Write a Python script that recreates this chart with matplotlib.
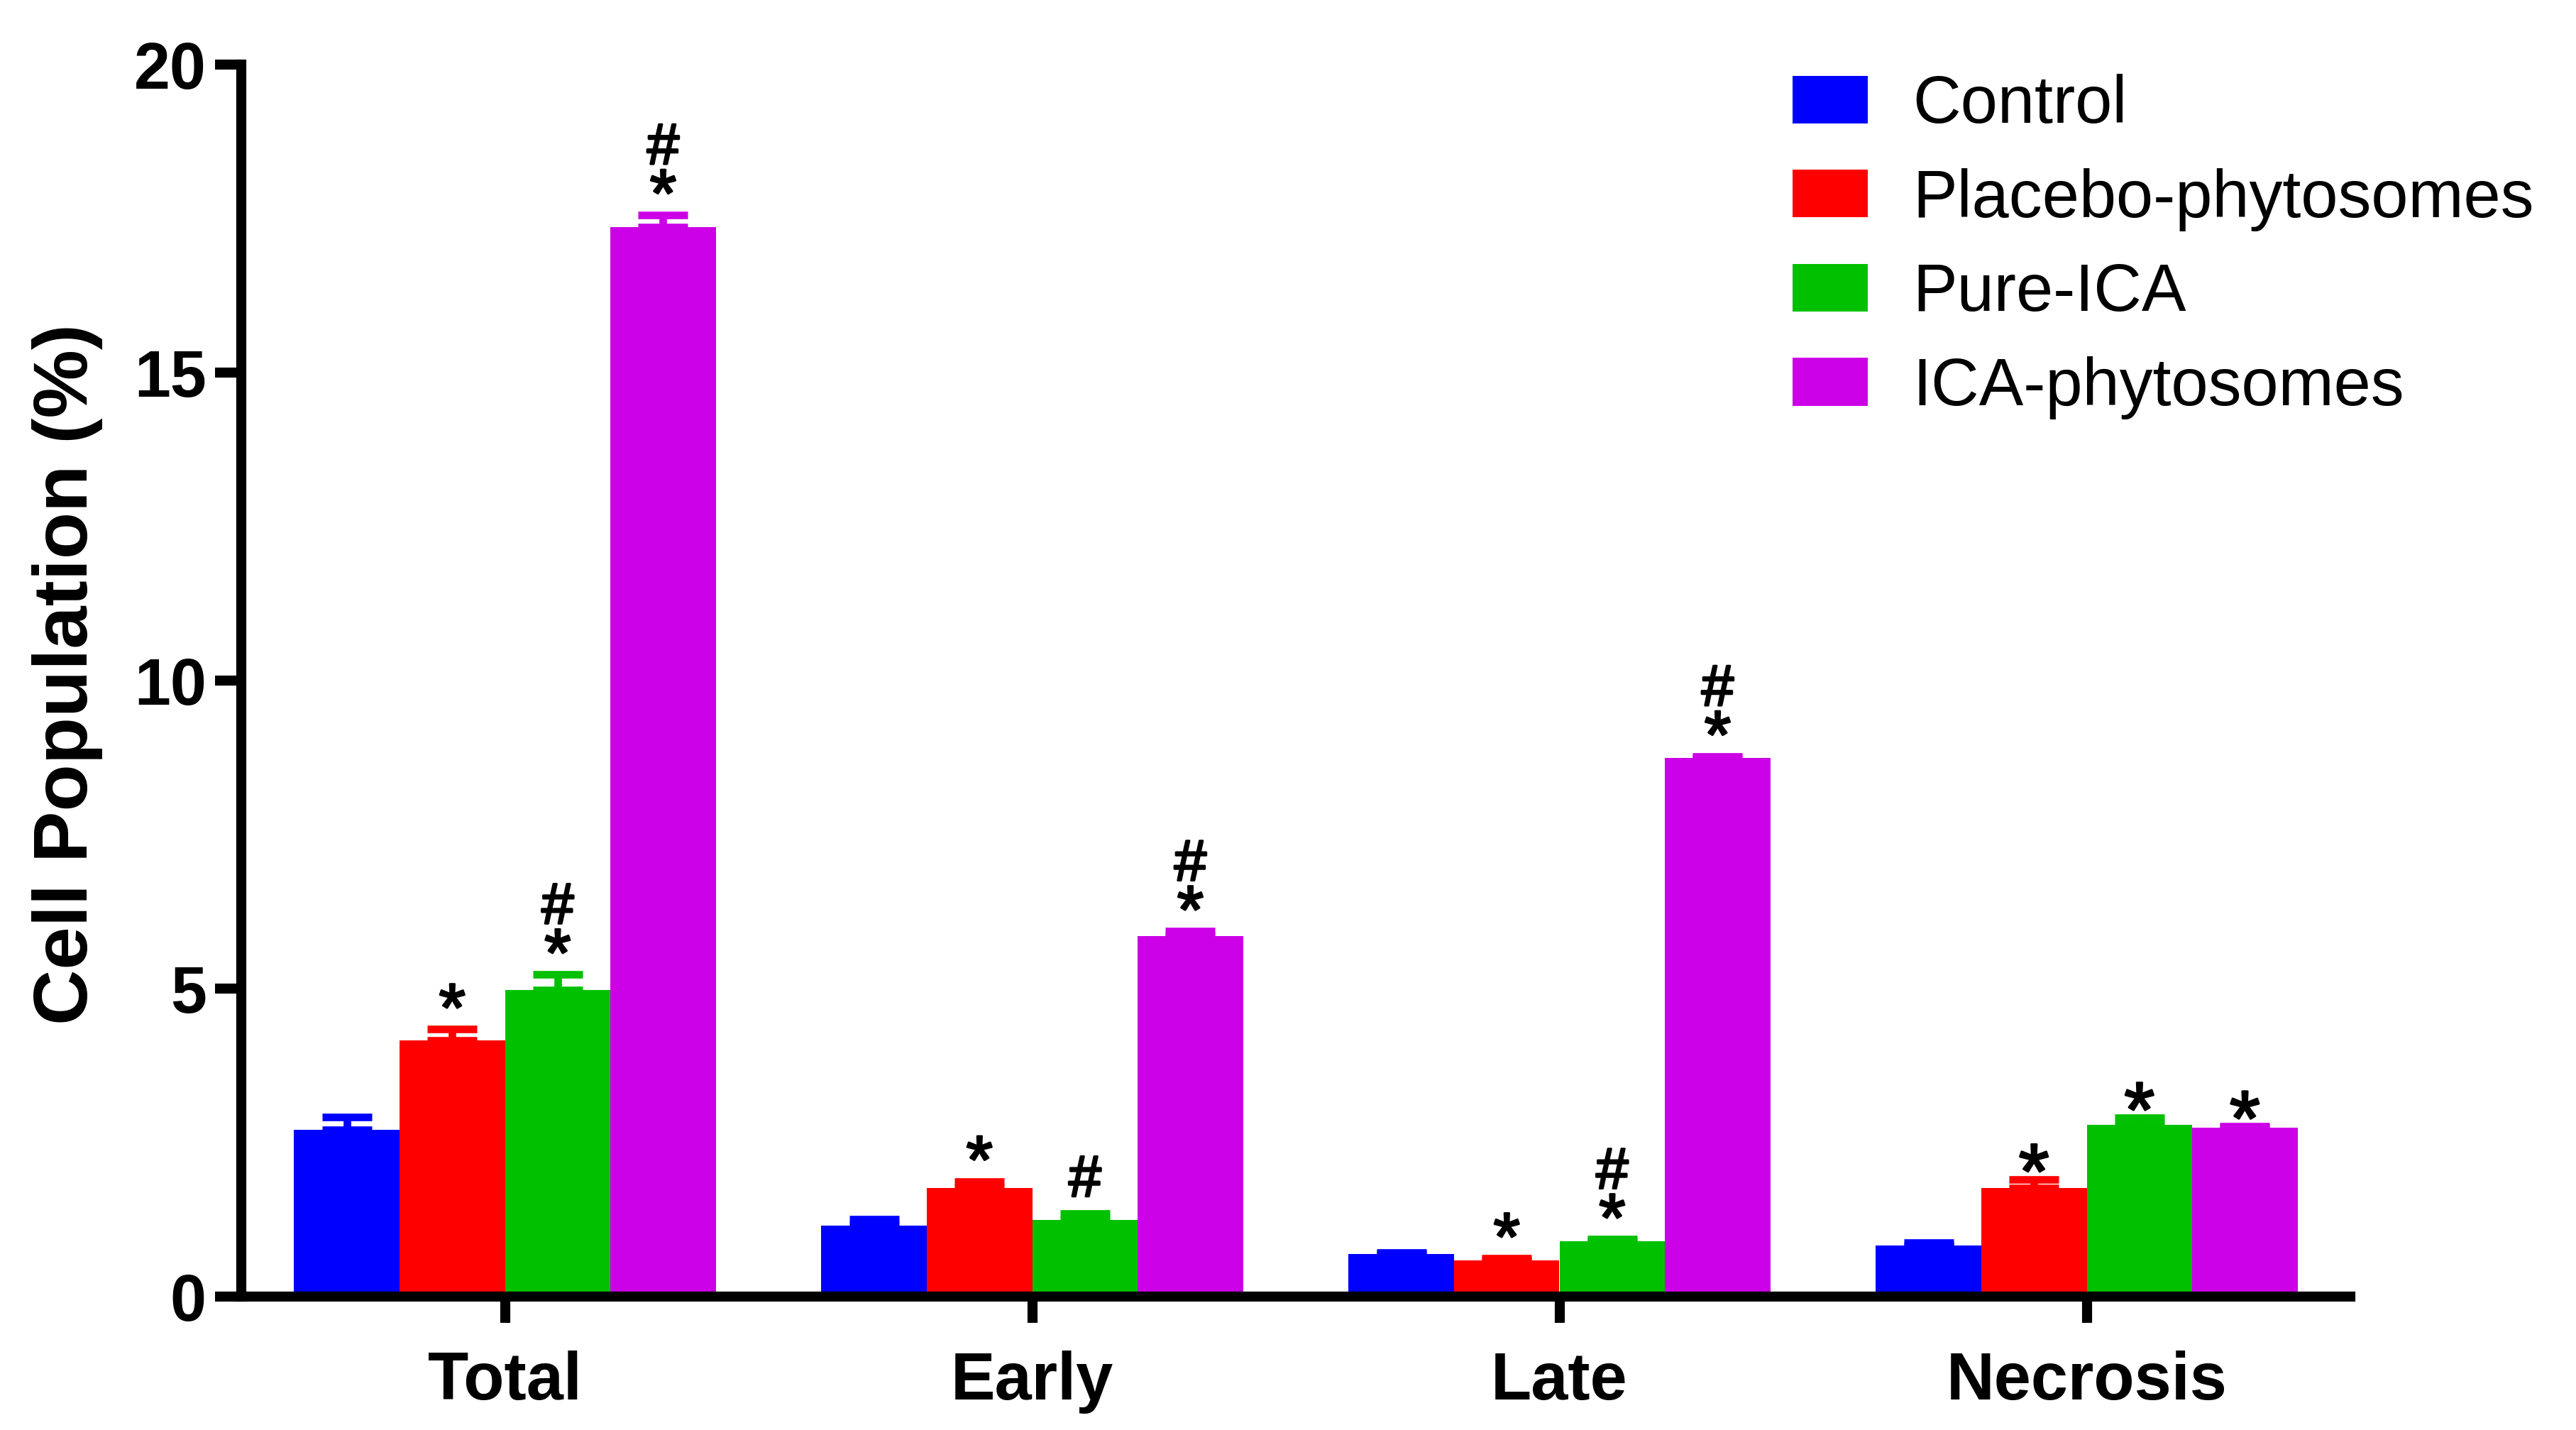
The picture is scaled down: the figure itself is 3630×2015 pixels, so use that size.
import matplotlib
matplotlib.use("Agg")
import matplotlib.pyplot as plt
import matplotlib.patheffects as pe
from matplotlib.patches import Patch
from matplotlib.textpath import TextPath
from matplotlib.font_manager import FontProperties
import numpy as np

categories = ["Total", "Early", "Late", "Necrosis"]
series = ["Control", "Placebo-phytosomes", "Pure-ICA", "ICA-phytosomes"]
colors = ["#0000FF", "#FF0000", "#00C000", "#CC00E6"]

control = [2.71, 1.15, 0.69, 0.83]
placebo = [4.16, 1.76, 0.59, 1.76]
pure_ica = [4.98, 1.25, 0.90, 2.79]
ica_phyto = [17.36, 5.85, 8.74, 2.74]

control_err = [0.20, 0.11, 0.03, 0.04]
placebo_err = [0.18, 0.11, 0.03, 0.14]
pure_ica_err = [0.25, 0.10, 0.03, 0.11]
ica_phyto_err = [0.20, 0.08, 0.03, 0.02]

control_sig = ["", "", "", ""]
placebo_sig = ["*", "*", "*", "*"]
pure_ica_sig = ["*#", "#", "*#", "*"]
ica_phyto_sig = ["*#", "*#", "*#", "*"]

values = [control, placebo, pure_ica, ica_phyto]
errors = [control_err, placebo_err, pure_ica_err, ica_phyto_err]
sigs = [control_sig, placebo_sig, pure_ica_sig, ica_phyto_sig]

plt.rcParams['font.family'] = ['Liberation Sans', 'DejaVu Sans']

W, H = 3630, 2015
DPI = 300
PX = 72.0 / DPI  # points per pixel

fig = plt.figure(figsize=(W / DPI, H / DPI), dpi=DPI)
ax = fig.add_axes([340 / W, 1 - 1827 / H, 2972 / W, (1827 - 91) / H])

thick = [pe.withStroke(linewidth=0.7, foreground='black')]


def glyph_metrics(ch, weight):
    fp = FontProperties(family='Liberation Sans', weight=weight)
    ext = TextPath((0, 0), ch, size=100, prop=fp).get_extents()
    return ext.y0 / 100.0, ext.height / 100.0, ext.width / 100.0


def place_glyph(ch, xpos, ytop, gap_px, height_px, width_px, weight='normal'):
    """Put glyph so its bottom is gap_px above data point ytop, sized to the given box."""
    y0, h, w = glyph_metrics(ch, weight)
    fs = 0.5 * (height_px * PX / h + width_px * PX / w)
    off = gap_px * PX - y0 * fs
    ax.annotate(ch, (xpos, ytop), xytext=(0, off), textcoords='offset points',
                ha='center', va='baseline', fontsize=fs, fontweight=weight,
                path_effects=thick)
    return gap_px + h * fs / PX


x = np.arange(len(categories))
bw = 0.2
for i, (vals, errs, sg, c, name) in enumerate(zip(values, errors, sigs, colors, series)):
    pos = x + (i - 1.5) * bw
    ax.bar(pos, vals, width=bw, color=c, label=name, zorder=2)
    ax.errorbar(pos, vals, yerr=[np.zeros(len(vals)), errs], fmt='none',
                ecolor=c, elinewidth=2.56, capsize=8.5, capthick=2.56, zorder=2)
    for j, (p, v, e, s) in enumerate(zip(pos, vals, errs, sg)):
        top = v + e
        if categories[j] == "Necrosis" and s == "*":
            place_glyph("*", p, top, 11, 37, 41)
            continue
        if "*" in s:
            used = place_glyph("*", p, top, 30, 32, 36)
            if "#" in s:
                place_glyph("#", p, top, used + 8, 58, 43)
        elif "#" in s:
            place_glyph("#", p, top, 24, 59, 43)

ax.set_xlim(-0.5, 3.5)
ax.set_ylim(0, 20)
ax.set_yticks([0, 5, 10, 15, 20])
ax.set_xticks(x)
ax.set_xticklabels(categories, fontweight='bold', fontsize=22.5)
for t in ax.get_yticklabels():
    t.set_fontweight('bold')
    t.set_fontsize(22)
for s in ['top', 'right']:
    ax.spines[s].set_visible(False)
for s in ['left', 'bottom']:
    ax.spines[s].set_linewidth(3.4)
ax.tick_params(axis='both', length=8.8, width=3.4, direction='out')
ax.tick_params(axis='y', pad=3)
ax.tick_params(axis='x', pad=9.4)

fig.text(95 / W, 1 - 950 / H, "Cell Population (%)", rotation=90, ha='center', va='center',
         fontsize=26, fontweight='bold')

handles = [Patch(facecolor=c, edgecolor='none') for c in colors]
fig.legend(handles, series, loc='upper left', bbox_to_anchor=(2526 / W, 1 - 104 / H),
           frameon=False, fontsize=22.5, handlelength=1.13, handleheight=0.725,
           handletextpad=0.68, labelspacing=0.465, borderpad=0, borderaxespad=0)

fig.savefig("out.png", dpi=DPI)
